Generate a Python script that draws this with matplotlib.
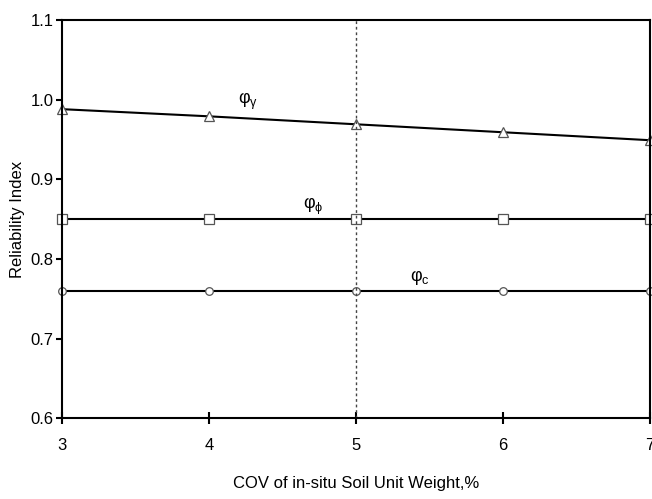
import matplotlib

matplotlib.use("Agg")
import matplotlib.pyplot as plt

plt.rcParams["font.family"] = ["Liberation Sans", "DejaVu Sans"]
plt.rcParams["mathtext.fontset"] = "custom"
plt.rcParams["mathtext.rm"] = "Liberation Sans"
plt.rcParams["mathtext.it"] = "Liberation Sans:italic"

# COV of in-situ soil unit weight (%)
cov = [3, 4, 5, 6, 7]
# reliability index per resistance factor
phi_gamma = [0.988, 0.979, 0.969, 0.959, 0.949]
phi_phi = [0.85, 0.85, 0.85, 0.85, 0.85]
phi_c = [0.76, 0.76, 0.76, 0.76, 0.76]

fig = plt.figure(figsize=(6.52, 4.99), dpi=100)
ax = fig.add_axes([0.095, 0.162, 0.902, 0.798])

line_kw = dict(color="black", lw=1.5, mfc="white", mec="#555555", mew=0.9)
ax.plot(cov, phi_gamma, marker="^", ms=7, **line_kw, clip_on=False)
ax.plot(cov, phi_phi, marker="s", ms=6.5, **line_kw, clip_on=False)
ax.plot(cov, phi_c, marker="o", ms=5.5, **line_kw, clip_on=False)
ax.axvline(5, color="#444444", lw=1, ls=(0, (2, 2)))

ax.text(4.2, 0.994, r"$\mathrm{\varphi_{\gamma}}$", fontsize=13)
ax.text(4.64, 0.863, r"$\mathrm{\varphi_{\phi}}$", fontsize=13)
ax.text(5.37, 0.772, r"$\mathrm{\varphi_{c}}$", fontsize=13)

ax.set_xlim(3, 7)
ax.set_ylim(0.6, 1.1)
ax.set_xticks([3, 4, 5, 6, 7])
ax.set_yticks([0.6, 0.7, 0.8, 0.9, 1.0, 1.1])
ax.set_yticklabels(["0.6", "0.7", "0.8", "0.9", "1.0", "1.1"])
ax.tick_params(axis="x", direction="inout", length=8, width=1.5, labelsize=12, pad=10)
ax.tick_params(axis="y", direction="out", length=4, width=1.5, labelsize=12, pad=2)
for s in ax.spines.values():
    s.set_linewidth(1.5)

ax.set_xlabel("COV of in-situ Soil Unit Weight,%", fontsize=12, labelpad=17)
ax.set_ylabel("Reliability Index", fontsize=12, labelpad=4)

fig.savefig("out.png", dpi=100)
